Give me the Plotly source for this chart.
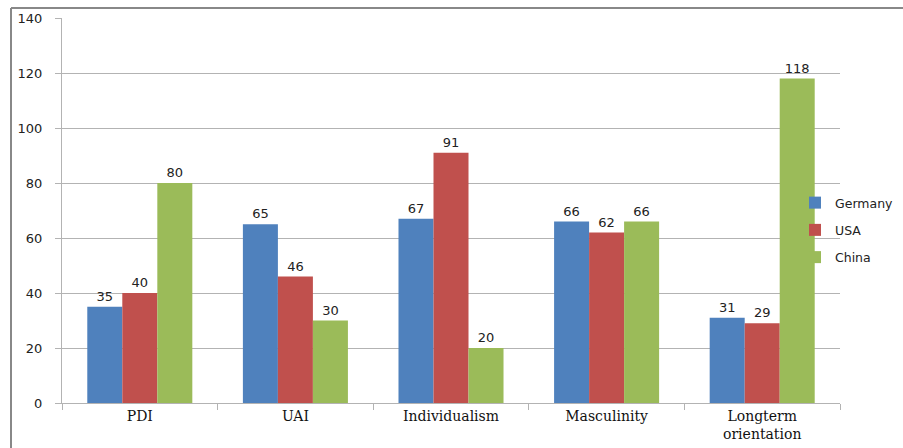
import plotly.graph_objects as go

# Hofstede cultural dimension scores by country
categories = ["PDI", "UAI", "Individualism", "Masculinity", "Longterm<br>orientation"]
germany = [35, 65, 67, 66, 31]
usa = [40, 46, 91, 62, 29]
china = [80, 30, 20, 66, 118]
y_ticks = [0, 20, 40, 60, 80, 100, 120, 140]

series = [
    ("Germany", germany, "#4F81BD"),
    ("USA", usa, "#C0504D"),
    ("China", china, "#9BBB59"),
]

fig = go.Figure()
for name, vals, color in series:
    fig.add_trace(go.Bar(
        x=categories, y=vals, name=name, legendgroup=name,
        marker=dict(color=color, line=dict(width=0)),
        text=[str(v) for v in vals], textposition="outside",
        textfont=dict(family="DejaVu Sans", size=13, color="#222222"),
        cliponaxis=False,
    ))

grid = "#B3B3B3"
W, H = 903, 448
L, R, T, B = 62, 0, 18, 45
pw = W - L - R
ph = H - T - B
fig.update_layout(
    width=W, height=H,
    margin=dict(l=L, r=R, t=T, b=B, autoexpand=False),
    paper_bgcolor="white", plot_bgcolor="white",
    barmode="group", bargap=0.325, bargroupgap=0,
    showlegend=True,
    legend=dict(
        x=(795 - L) / pw, xanchor="left", y=(403 - 230) / ph, yanchor="middle",
        font=dict(family="DejaVu Sans", size=12.5, color="#222222"),
        tracegroupgap=8, itemwidth=30,
        bgcolor="rgba(0,0,0,0)",
    ),
    xaxis=dict(
        type="category", tickson="boundaries", domain=[0, 778 / pw],
        automargin=False,
        ticks="outside", ticklen=6, tickcolor=grid,
        showline=True, linecolor=grid, linewidth=1,
        showgrid=False,
        tickfont=dict(family="DejaVu Serif", size=14, color="#111111"),
    ),
    yaxis=dict(
        range=[0, 140], tickvals=y_ticks, automargin=False,
        ticks="outside", ticklen=6, tickcolor=grid,
        showline=True, linecolor=grid, linewidth=1,
        showgrid=True, gridcolor=grid, gridwidth=1,
        zeroline=False,
        tickfont=dict(family="DejaVu Sans", size=13, color="#222222"),
        ticklabelstandoff=10,
    ),
    shapes=[
        # outer frame: top and left edges
        dict(type="line", xref="paper", yref="paper",
             x0=(11 - L) / pw, x1=1.0, y0=1 + (T - 8) / ph, y1=1 + (T - 8) / ph,
             line=dict(color="#888888", width=2)),
        dict(type="line", xref="paper", yref="paper",
             x0=(11 - L) / pw, x1=(11 - L) / pw, y0=1 + (T - 8) / ph, y1=-B / ph,
             line=dict(color="#888888", width=2)),
    ],
)

fig.write_html("out.html")
